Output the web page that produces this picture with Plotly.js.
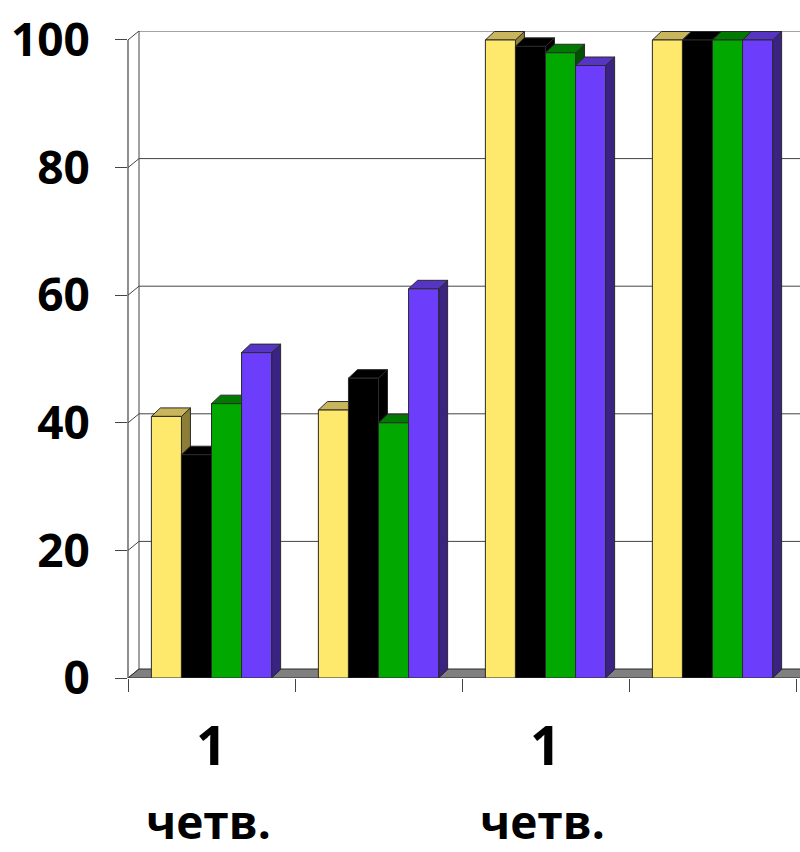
<!DOCTYPE html>
<html>
<head>
<meta charset="utf-8">
<script src="https://cdn.plot.ly/plotly-3.0.1.min.js"></script>
<style>html,body{margin:0;padding:0;background:#fff;}#chart{width:800px;height:852px;}</style>
</head>
<body>
<div id="chart"></div>
<script>
// ---- data ----
const groupIndex = [0, 1, 2, 3];
const labelTop = ['1', '', '1', ''];
const labelBottom = ['четв.', '', 'четв.', ''];
const seriesNames = ['Ряд 1', 'Ряд 2', 'Ряд 3', 'Ряд 4'];
const yellowVals = [41, 42, 100, 100];
const blackVals = [35, 47, 99, 100];
const greenVals = [43, 40, 98, 100];
const purpleVals = [51, 61, 96, 100];
const yTicks = [0, 20, 40, 60, 80, 100];

// ---- styles ----
const allVals = [yellowVals, blackVals, greenVals, purpleVals];
const frontCol = ['#FFE96C', '#000000', '#00A800', '#6C3DFA'];
const topCol   = ['#C9B65C', '#000000', '#007A00', '#5634C4'];
const sideCol  = ['#8C7E36', '#000000', '#005200', '#3B2383'];
const edge = '#2a2a2a';
const pxX = 167;            // px per category
const plotH = 647;
const yMaxFront = 100;
const wallDxPx = 11, wallDyPx = 9;
const barDxPx = 9, barDyPx = 8.5;
const yTop = yMaxFront + wallDyPx * 100 / 638.5;
const pxY = plotH / yTop;
const wdx = wallDxPx / pxX, wdy = wallDyPx / pxY;
const bdx = barDxPx / pxX, bdy = barDyPx / pxY;
const bargap = 0.28;
const bw = (1 - bargap) / allVals.length;
const xMin = -0.5, xMax = -0.5 + 672 / pxX;

const shapes = [];
// back wall left edge
shapes.push({type:'line', xref:'x', yref:'y', x0:xMin+wdx, x1:xMin+wdx, y0:wdy, y1:yMaxFront+wdy,
  line:{color:'#444', width:1}, layer:'below'});
// gridlines on back wall + diagonals
yTicks.forEach(v => {
  if (v > 0) {
    shapes.push({type:'line', xref:'x', yref:'y', x0:xMin+wdx, x1:xMax+0.2, y0:v+wdy, y1:v+wdy,
      line:{color:'#444', width:1}, layer:'below'});
  }
  shapes.push({type:'line', xref:'x', yref:'y', x0:xMin, x1:xMin+wdx, y0:v, y1:v+wdy,
    line:{color:'#444', width:1}, layer:'below'});
});
// floor
shapes.push({type:'path', xref:'x', yref:'y', layer:'below',
  path:`M ${xMin},0 L ${xMin+wdx},${wdy} L ${xMax+0.2},${wdy} L ${xMax+0.2},0 Z`,
  fillcolor:'#808080', line:{color:edge, width:1}});
// 3D faces of bars
groupIndex.forEach((g, i) => {
  allVals.forEach((vals, k) => {
    const v = vals[i];
    const xl = g - (1 - bargap) / 2 + k * bw;
    const xr = xl + bw;
    shapes.push({type:'path', xref:'x', yref:'y', layer:'below',
      path:`M ${xr},0 L ${xr+bdx},${bdy} L ${xr+bdx},${v+bdy} L ${xr},${v} Z`,
      fillcolor:sideCol[k], line:{color:edge, width:1}});
    shapes.push({type:'path', xref:'x', yref:'y', layer:'below',
      path:`M ${xl},${v} L ${xl+bdx},${v+bdy} L ${xr+bdx},${v+bdy} L ${xr},${v} Z`,
      fillcolor:topCol[k], line:{color:edge, width:1}});
  });
});
// front value axis line
shapes.push({type:'line', xref:'paper', yref:'y', x0:0, x1:0, y0:0, y1:yMaxFront,
  line:{color:'#444', width:1.2}, layer:'above'});

const traces = allVals.map((vals, k) => ({
  type:'bar', name:seriesNames[k], x:groupIndex, y:vals,
  marker:{color:frontCol[k], line:{color:edge, width:1}},
  hoverinfo:'skip'
}));

const fam = '"Open Sans", "DejaVu Sans", sans-serif';
const topFont = {family:fam, size:54, color:'#000', weight:'bold'};
const botFont = {family:fam, size:46, color:'#000', weight:'bold'};
const annotations = [];
groupIndex.forEach((g, i) => {
  if (labelTop[i]) annotations.push({xref:'x', yref:'paper', x:g, y:0, yanchor:'middle', yshift:-66,
    text:labelTop[i], showarrow:false, font:topFont});
  if (labelBottom[i]) annotations.push({xref:'x', yref:'paper', x:g, y:0, yanchor:'middle', yshift:-143,
    xshift:-3, text:labelBottom[i], showarrow:false, font:botFont});
});

const layout = {
  width:800, height:852,
  margin:{l:128, r:0, t:31, b:174, pad:0},
  paper_bgcolor:'#fff', plot_bgcolor:'#fff',
  showlegend:false, hovermode:false,
  barmode:'group', bargap:bargap, bargroupgap:0,
  xaxis:{range:[xMin, xMax], tickvals:[-0.5,0.5,1.5,2.5,3.5], ticks:'outside', ticklen:13,
    tickcolor:'#444', tickwidth:1, showticklabels:false, showgrid:false, zeroline:false, showline:false},
  yaxis:{range:[0, yTop], tickvals:yTicks, ticktext:yTicks.map(String), ticks:'outside', ticklen:12,
    tickcolor:'#444', tickwidth:1, showgrid:false, zeroline:false, showline:false,
    ticklabelstandoff:16,
    tickfont:{family:fam, size:46, color:'#000', weight:'bold'}},
  shapes:shapes, annotations:annotations
};
Plotly.newPlot('chart', traces, layout, {staticPlot:true, displayModeBar:false});
</script>
</body>
</html>
